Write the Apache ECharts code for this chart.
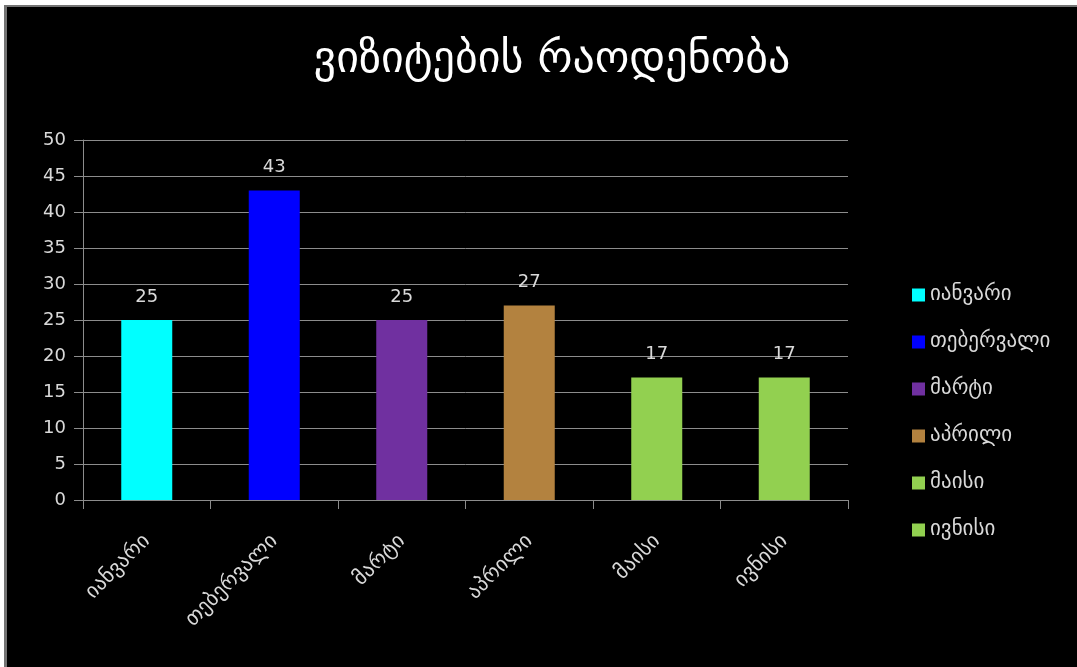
<!DOCTYPE html>
<html>
<head>
<meta charset="utf-8">
<script src="https://cdn.jsdelivr.net/npm/echarts@6/dist/echarts.min.js"></script>
<style>
  html, body { margin: 0; padding: 0; background: #ffffff; overflow: hidden; }
  #frame {
    position: absolute; left: 4px; top: 5px; right: 0; bottom: 0;
    background: #000000;
    border-left: 3px solid #747474;
    border-top: 2px solid #747474;
  }
  #chart { position: absolute; left: 0; top: 0; width: 1077px; height: 667px; }
</style>
</head>
<body>
<div id="frame"></div>
<div id="chart"></div>
<script>
// Monthly visit counts
const months = ['იანვარი', 'თებერვალი', 'მარტი', 'აპრილი', 'მაისი', 'ივნისი'];
const visits = [25, 43, 25, 27, 17, 17];
const barColors = ['#00FFFF', '#0000FF', '#7030A0', '#B3823F', '#92D050', '#92D050'];
const yTicks = { min: 0, max: 50, interval: 5 };

const font = 'DejaVu Sans';
const textColor = '#d9d9d9';

// one series per month so each gets its own legend entry; stacked so they share a slot
const series = months.map((m, i) => ({
  name: m,
  type: 'bar',
  stack: 'visits',
  barWidth: '40%',
  itemStyle: { color: barColors[i] },
  label: {
    show: true,
    position: 'top',
    distance: 14,
    color: textColor,
    fontFamily: font,
    fontSize: 18
  },
  data: months.map((_, j) => (j === i ? visits[i] : '-'))
}));

const chart = echarts.init(document.getElementById('chart'));
chart.setOption({
  backgroundColor: 'transparent',
  animation: false,
  title: {
    text: 'ვიზიტების რაოდენობა',
    left: 547,
    textAlign: 'center',
    top: 34,
    textStyle: { color: '#ffffff', fontFamily: font, fontSize: 44, fontWeight: 'normal' }
  },
  legend: {
    orient: 'vertical',
    left: 907,
    top: 279,
    itemWidth: 13,
    itemHeight: 13,
    itemGap: 25,
    icon: 'rect',
    selectedMode: false,
    textStyle: { color: textColor, fontFamily: font, fontSize: 21, lineHeight: 22 },
    data: months
  },
  grid: { left: 83, right: 229, top: 140, bottom: 167 },
  xAxis: {
    type: 'category',
    data: months,
    boundaryGap: true,
    axisLine: { lineStyle: { color: '#8c8c8c', width: 1 } },
    axisTick: { show: true, length: 9, lineStyle: { color: '#8c8c8c' } },
    axisLabel: {
      rotate: 45,
      margin: 38,
      color: textColor,
      fontFamily: font,
      fontSize: 21
    }
  },
  yAxis: {
    type: 'value',
    min: yTicks.min,
    max: yTicks.max,
    interval: yTicks.interval,
    axisLine: { show: true, lineStyle: { color: '#8c8c8c', width: 1 } },
    axisTick: { show: true, length: 9, lineStyle: { color: '#8c8c8c' } },
    axisLabel: { margin: 17, color: textColor, fontFamily: font, fontSize: 18 },
    splitLine: { show: true, lineStyle: { color: '#8c8c8c', width: 1 } }
  },
  series: series
});
</script>
</body>
</html>
